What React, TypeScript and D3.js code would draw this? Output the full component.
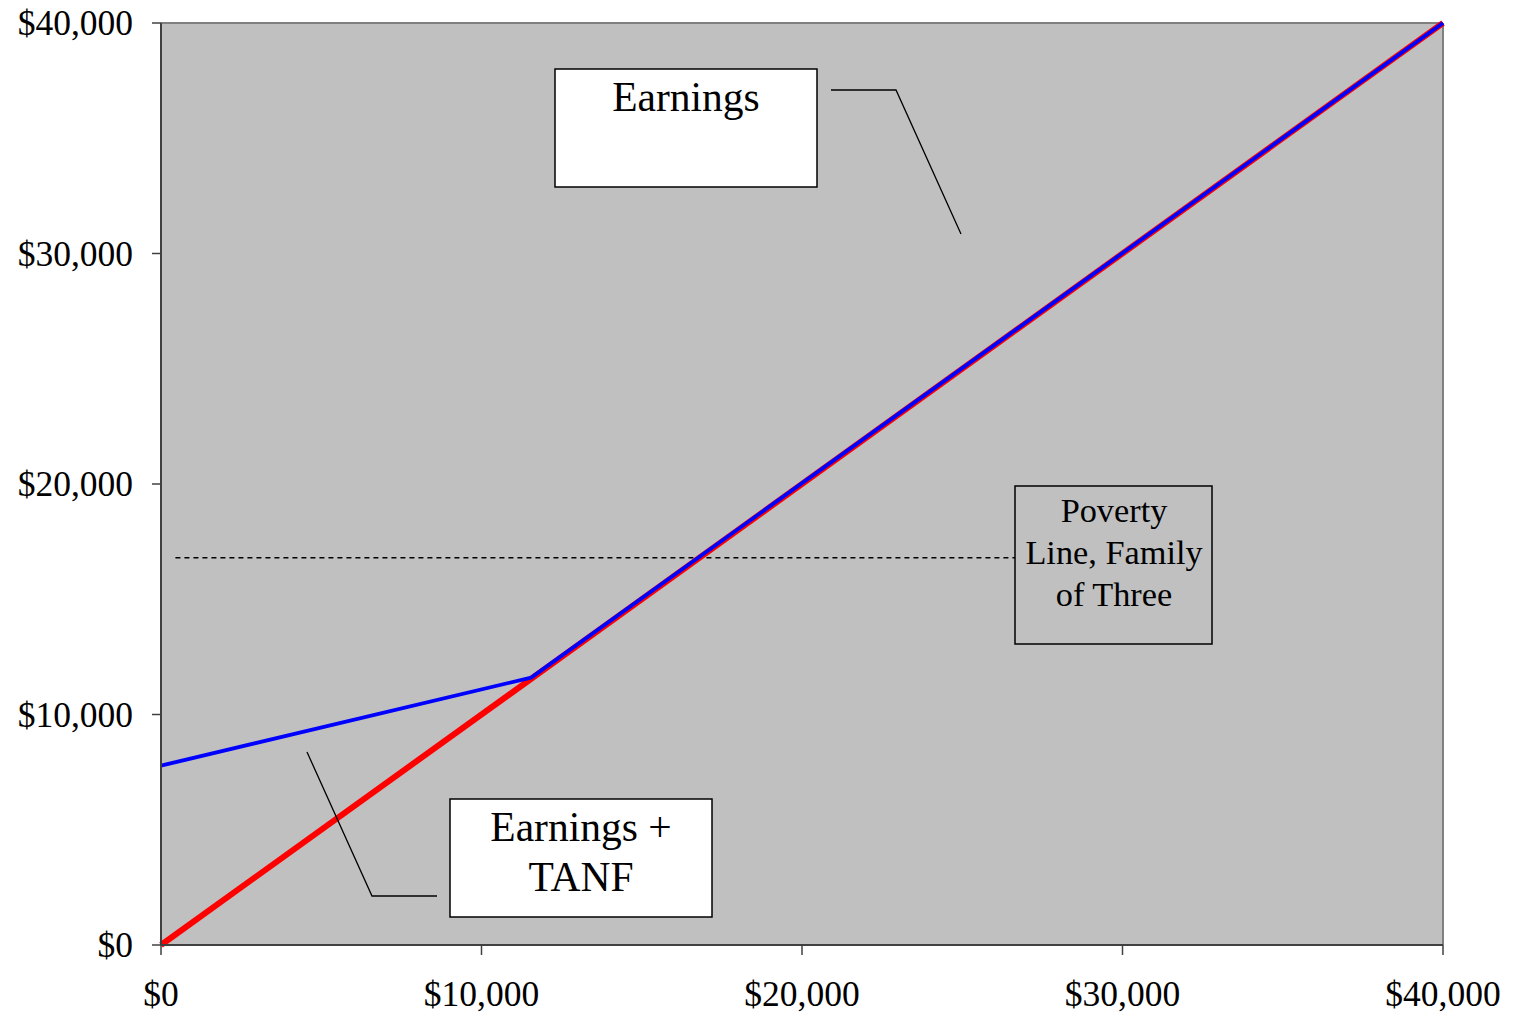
import * as d3 from 'd3';

// earnings vs. earnings + TANF (annual dollars)
const earningsX = [0, 40000];
const earningsY = [0, 40000];
const tanfX = [0, 11550, 40000];
const tanfY = [7780, 11600, 40000];
const povertyLine = 16800;
const xTicks = [0, 10000, 20000, 30000, 40000];
const yTicks = [0, 10000, 20000, 30000, 40000];

const W = 1515;
const H = 1015;
const M = { left: 161, right: 72, top: 23, bottom: 70 };
const font = '"Liberation Serif", "Times New Roman", serif';

export default function App() {
  const x = d3.scaleLinear().domain([0, 40000]).range([M.left, W - M.right]);
  const y = d3.scaleLinear().domain([0, 40000]).range([H - M.bottom, M.top]);
  const fmt = (v: number) => '$' + d3.format(',')(v);

  const line = d3.line<[number, number]>().x(d => x(d[0])).y(d => y(d[1]));
  const earnings = earningsX.map((v, i) => [v, earningsY[i]] as [number, number]);
  const tanf = tanfX.map((v, i) => [v, tanfY[i]] as [number, number]);

  const x0 = x(0), x1 = x(40000), y0 = y(0), y1 = y(40000);

  return (
    <svg width={W} height={H} style={{ position: 'absolute', left: 0, top: 0 }} fontFamily={font}>
      <rect x={x0} y={y1} width={x1 - x0} height={y0 - y1} fill="#c0c0c0" />
      <line x1={x0} x2={x1} y1={y1} y2={y1} stroke="#808080" strokeWidth={2} />
      <line x1={x1} x2={x1} y1={y1} y2={y0} stroke="#808080" strokeWidth={2} />

      {/* poverty line */}
      <line x1={x(450)} x2={1015} y1={y(povertyLine)} y2={y(povertyLine)}
        stroke="#000" strokeWidth={1.3} strokeDasharray="5,4" />

      <path d={line(earnings) ?? ''} fill="none" stroke="#ff0000" strokeWidth={6} />
      <path d={line(tanf) ?? ''} fill="none" stroke="#0000ff" strokeWidth={3.8} strokeLinejoin="round" />

      {/* axes */}
      <line x1={x0} x2={x0} y1={y1} y2={y0} stroke="#404040" strokeWidth={2} />
      <line x1={x0} x2={x1} y1={y0} y2={y0} stroke="#404040" strokeWidth={2} />
      {yTicks.map(t => (
        <g key={'y' + t}>
          <line x1={x0 - 9} x2={x0} y1={y(t)} y2={y(t)} stroke="#404040" strokeWidth={1.5} />
          <text x={133} y={y(t)} dy="0.35em" textAnchor="end" fontSize={35.5}>{fmt(t)}</text>
        </g>
      ))}
      {xTicks.map(t => (
        <g key={'x' + t}>
          <line x1={x(t)} x2={x(t)} y1={y0} y2={y0 + 10} stroke="#404040" strokeWidth={1.5} />
          <text x={x(t)} y={994} dy="0.35em" textAnchor="middle" fontSize={35.5}>{fmt(t)}</text>
        </g>
      ))}

      {/* Earnings label */}
      <rect x={555} y={69} width={262} height={118} fill="#fff" stroke="#000" strokeWidth={1.5} />
      <text x={686} y={96} dy="0.35em" textAnchor="middle" fontSize={41.5}>Earnings</text>
      <polyline points="831,90 896,90 961,234" fill="none" stroke="#000" strokeWidth={1.3} />

      {/* Earnings + TANF label */}
      <rect x={450} y={799} width={262} height={118} fill="#fff" stroke="#000" strokeWidth={1.5} />
      <text x={581} y={826} dy="0.35em" textAnchor="middle" fontSize={41.5}>Earnings +</text>
      <text x={581} y={876} dy="0.35em" textAnchor="middle" fontSize={41.5}>TANF</text>
      <polyline points="437,896 372,896 307,752" fill="none" stroke="#000" strokeWidth={1.3} />

      {/* Poverty label */}
      <rect x={1015} y={486} width={197} height={158} fill="none" stroke="#000" strokeWidth={1.5} />
      <text x={1114} y={510} dy="0.35em" textAnchor="middle" fontSize={34.3}>Poverty</text>
      <text x={1114} y={552} dy="0.35em" textAnchor="middle" fontSize={34.3}>Line, Family</text>
      <text x={1114} y={594} dy="0.35em" textAnchor="middle" fontSize={34.3}>of Three</text>
    </svg>
  );
}
